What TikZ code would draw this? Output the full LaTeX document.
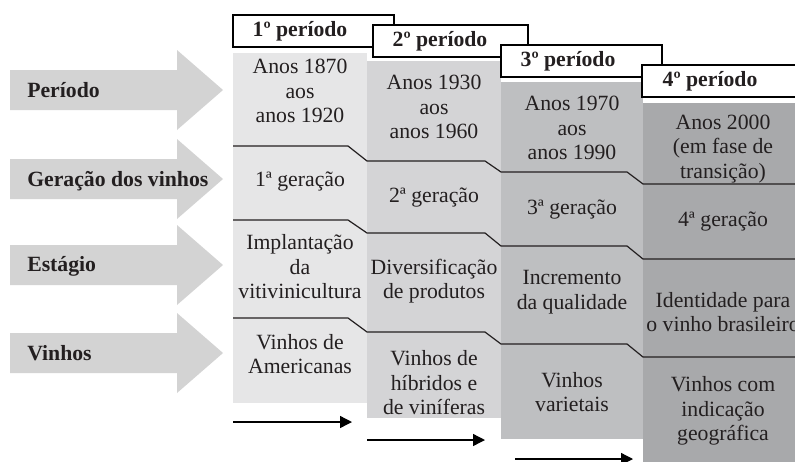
\documentclass[tikz,border=0pt]{standalone}
\usepackage{fontspec}
\setmainfont{Liberation Serif}
\usetikzlibrary{arrows.meta}
\definecolor{fase1}{HTML}{E6E6E7}
\definecolor{fase2}{HTML}{D4D4D6}
\definecolor{fase3}{HTML}{BEBFC1}
\definecolor{fase4}{HTML}{A8A9AB}
\definecolor{seta}{HTML}{D3D3D3}
\definecolor{tinta}{HTML}{231F20}
\begin{document}
\begin{tikzpicture}[x=0.75pt,y=-0.75pt,
  txt/.style={align=center,inner sep=0pt,text=tinta,font=\fontsize{16.3}{18.4}\selectfont},
  lbl/.style={anchor=base west,inner sep=0pt,text=tinta,font=\fontsize{16.3}{18.4}\selectfont\bfseries},
  hdr/.style={inner sep=0pt,text=tinta,font=\fontsize{16.3}{18.4}\selectfont\bfseries},
  sep/.style={draw=tinta,line width=0.9pt},
  cab/.style={draw=black,fill=white,line width=0.9pt},
  seq/.style={-{Triangle[length=9pt,width=9pt]},line width=1pt}]
  \useasboundingbox (0,0) rectangle (795,461);
  \clip (0,0) rectangle (795,461);
  \fill[seta] (10,70) -- (177,70) -- (177,50) -- (223,90) -- (177,130) -- (177,110) -- (10,110) -- cycle;
  \fill[seta] (10,159) -- (177,159) -- (177,139) -- (223,179) -- (177,219) -- (177,199) -- (10,199) -- cycle;
  \fill[seta] (10,245) -- (177,245) -- (177,225) -- (223,265) -- (177,305) -- (177,285) -- (10,285) -- cycle;
  \fill[seta] (10,333) -- (177,333) -- (177,313) -- (223,353) -- (177,393) -- (177,373) -- (10,373) -- cycle;
  \node[lbl] (l1) at (27,97) {Período};
  \node[lbl] (l2) at (27,186) {Geração dos vinhos};
  \node[lbl] (l3) at (27,271) {Estágio};
  \node[lbl] (l4) at (27,360) {Vinhos};

  \fill[fase1] (233,53) rectangle (367,403);
  \fill[fase2] (367,61) rectangle (501,418);
  \fill[fase3] (501,82) rectangle (643,439);
  \fill[fase4] (643,103) rectangle (803,470);
  \draw[sep] (233,146) -- (348,146) -- (367,161) -- (485,161) -- (501,172) -- (627,172) -- (643,184) -- (803,184);
  \draw[sep] (233,220) -- (348,220) -- (367,233) -- (485,233) -- (501,246) -- (627,246) -- (643,259) -- (803,259);
  \draw[sep] (233,318) -- (348,318) -- (367,332) -- (485,332) -- (501,344) -- (627,344) -- (643,357) -- (803,357);

  \draw[cab] (233,15) rectangle (394,47);
  \node[hdr] (h1) at (300,31) {1º período};
  \draw[cab] (373,25) rectangle (528,57);
  \node[hdr] (h2) at (440,41) {2º período};
  \draw[cab] (501,45) rectangle (662,77);
  \node[hdr] (h3) at (568,61) {3º período};
  \draw[cab] (642,65) rectangle (803,97);
  \node[hdr] (h4) at (710,81) {4º período};

  \node[txt] (c11) at (300,91) {Anos 1870\\aos\\anos 1920};
  \node[txt] (c12) at (300,182) {1ª geração};
  \node[txt] (c13) at (300,267) {Implantação\\da\\vitivinicultura};
  \node[txt] (c14) at (300,354) {Vinhos de\\Americanas};
  \node[txt] (c21) at (434,107) {Anos 1930\\aos\\anos 1960};
  \node[txt] (c22) at (434,198) {2ª geração};
  \node[txt] (c23) at (434,281) {Diversificação\\de produtos};
  \node[txt] (c24) at (434,383) {Vinhos de\\híbridos e\\de viníferas};
  \node[txt] (c31) at (572,128) {Anos 1970\\aos\\anos 1990};
  \node[txt] (c32) at (572,210) {3ª geração};
  \node[txt] (c33) at (572,292) {Incremento\\da qualidade};
  \node[txt] (c34) at (572,392) {Vinhos\\varietais};
  \node[txt] (c41) at (723,149) {Anos 2000\\(em fase de\\transição)};
  \node[txt] (c42) at (723,222) {4ª geração};
  \node[txt] (c43) at (723,312) {Identidade para\\o vinho brasileiro};
  \node[txt] (c44) at (723,411) {Vinhos com\\indicação\\geográfica};

  \coordinate (s1a) at (233,422); \coordinate (s1b) at (352,422);
  \coordinate (s2a) at (367,440); \coordinate (s2b) at (485,440);
  \coordinate (s3a) at (515,459); \coordinate (s3b) at (633,459);
  \draw[seq] (s1a) -- (s1b);
  \draw[seq] (s2a) -- (s2b);
  \draw[seq] (s3a) -- (s3b);
\end{tikzpicture}
\end{document}
